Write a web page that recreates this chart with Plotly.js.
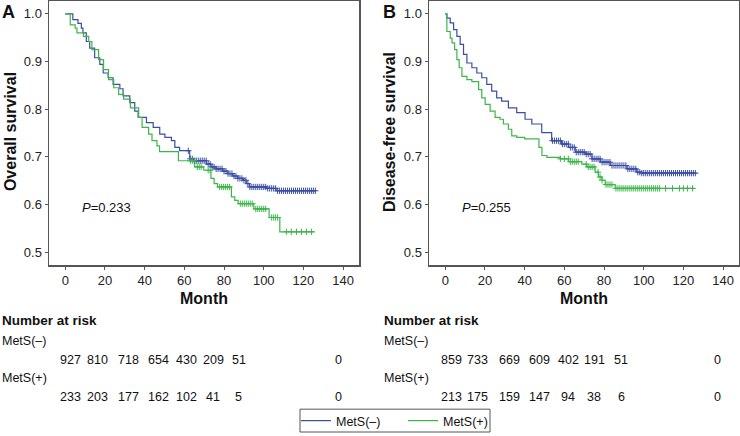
<!DOCTYPE html>
<html>
<head>
<meta charset="utf-8">
<script src="https://cdn.plot.ly/plotly-3.0.1.min.js"></script>
<style>html,body{margin:0;padding:0;background:#fff;}#chart{width:740px;height:436px;}</style>
</head>
<body>
<div id="chart"></div>
<script>
// ---------- data ----------
const groupNames = ["MetS(–)", "MetS(+)"];
const xTicks = [0, 20, 40, 60, 80, 100, 120, 140];
const yTicks = [0.5, 0.6, 0.7, 0.8, 0.9, 1.0];

// Panel A: overall survival
const osNegTime = [0, 3.8, 6.4, 8.1, 8.9, 10.6, 12.3, 14.8, 17.4, 19.1, 21.6, 24.1, 27.5, 29.1, 32.5, 35, 36.7, 40.9, 44.3, 47.6, 50.2, 53.5, 55.2, 57.6, 62.7, 64.5, 71.1, 73.4, 76, 79.3, 81.9, 84.4, 86.9, 89.5, 91.2, 92.8, 101.2, 106.2, 126.4];
const osNegSurv = [1.0, 0.988, 0.98, 0.97, 0.96, 0.942, 0.928, 0.908, 0.894, 0.876, 0.866, 0.852, 0.843, 0.828, 0.814, 0.796, 0.783, 0.772, 0.762, 0.748, 0.741, 0.734, 0.72, 0.713, 0.696, 0.692, 0.685, 0.679, 0.675, 0.670, 0.665, 0.660, 0.655, 0.651, 0.644, 0.637, 0.634, 0.629, 0.629];
const osNegCens = [62, 63, 64, 65, 66, 67, 68, 69, 70, 71, 72, 73, 74, 75, 76, 77, 78, 79, 80, 81, 82, 83, 84, 85, 86, 87, 88, 89, 90, 91, 92, 93, 94, 95, 96, 97, 98, 99, 100, 101, 102, 103, 104, 105, 106, 107, 108, 109, 110, 111, 112, 113, 114, 115, 116, 117, 118, 119, 120, 121, 122, 123, 124, 125, 126];

const osPosTime = [0, 2.5, 5, 5.9, 9.2, 11.8, 13.4, 16.8, 19.3, 21.8, 24.4, 26.9, 29.4, 32.8, 37, 38.7, 42, 43.7, 46.2, 47.5, 57, 65.2, 69.8, 73.4, 75, 76.7, 83.7, 85.4, 87.1, 95, 102.7, 108.1, 125.7];
const osPosSurv = [1.0, 0.977, 0.97, 0.96, 0.953, 0.942, 0.925, 0.904, 0.883, 0.862, 0.845, 0.831, 0.821, 0.803, 0.783, 0.762, 0.748, 0.734, 0.723, 0.711, 0.692, 0.679, 0.672, 0.655, 0.644, 0.637, 0.616, 0.609, 0.602, 0.591, 0.573, 0.543, 0.543];
const osPosCens = [63, 64, 65, 66.5, 67.5, 68.5, 72, 73, 77.8, 78.8, 79.8, 80.8, 81.8, 82.8, 88.2, 89.2, 90.2, 91.2, 92.2, 93.2, 94.2, 96, 97, 98, 99, 100, 101, 104, 105, 106, 107, 111.4, 113.9, 116.5, 119, 121.5, 124];

// Panel B: disease-free survival
const dfsNegTime = [0, 0.8, 2.5, 4.2, 5.85, 7.5, 9.2, 10.9, 13.4, 15.9, 18.4, 20.9, 23.4, 25.9, 28.4, 31.8, 36, 40.2, 43.6, 48.6, 53.6, 58.6, 62.1, 65.5, 70.5, 73.9, 78.1, 83.1, 91.5, 96.5, 99, 126.6];
const dfsNegSurv = [1.0, 0.991, 0.981, 0.967, 0.953, 0.936, 0.915, 0.897, 0.887, 0.876, 0.866, 0.852, 0.838, 0.824, 0.817, 0.803, 0.793, 0.779, 0.769, 0.751, 0.734, 0.727, 0.72, 0.71, 0.706, 0.696, 0.689, 0.682, 0.675, 0.668, 0.666, 0.666];
const dfsNegCens = [54, 55, 56, 57, 58, 59, 60, 61, 62, 63, 64, 65, 66, 67, 68, 69, 70, 71, 72, 73, 74, 75, 76, 77, 78, 79, 80, 81, 82, 83, 84, 85, 86, 87, 88, 89, 90, 91, 92, 93, 94, 95, 96, 97, 98, 99, 100, 101, 102, 103, 104, 105, 106, 107, 108, 109, 110, 111, 112, 113, 114, 115, 116, 117, 118, 119, 120, 121, 122, 123, 124, 125, 126];

const dfsPosTime = [0, 0.8, 2.5, 3.4, 4.7, 5.85, 7, 8.4, 10.9, 13.4, 16.8, 18.4, 20.1, 22.6, 25.1, 27.6, 29.3, 31.8, 33.5, 36, 40, 47.2, 48.7, 51.2, 57.9, 62.1, 68.8, 71.3, 75.5, 77.2, 78.9, 80.6, 85.6, 125.8];
const dfsPosSurv = [1.0, 0.963, 0.949, 0.939, 0.925, 0.904, 0.887, 0.869, 0.862, 0.858, 0.841, 0.824, 0.81, 0.796, 0.783, 0.779, 0.769, 0.758, 0.744, 0.741, 0.738, 0.72, 0.703, 0.699, 0.696, 0.690, 0.685, 0.679, 0.668, 0.658, 0.651, 0.642, 0.634, 0.634];
const dfsPosCens = [58, 60, 62, 63, 64, 65, 66, 67, 71, 72, 73, 74, 75, 77, 78, 79, 81, 82, 83, 84, 86, 87, 88, 89, 90, 91, 92, 93, 94, 95, 96, 97, 98, 99, 100, 101, 102, 103, 104, 105, 106, 107, 108, 111, 114.5, 118, 120, 122, 124.6];

// Numbers at risk
const riskLabel = "Number at risk";
const osRiskNeg = [927, 810, 718, 654, 430, 209, 51, 0];
const osRiskPos = [233, 203, 177, 162, 102, 41, 5, 0];
const dfsRiskNeg = [859, 733, 669, 609, 402, 191, 51, 0];
const dfsRiskPos = [213, 175, 159, 147, 94, 38, 6, 0];

const pA = "0.233";
const pB = "0.255";

// ---------- style ----------
const W = 740, H = 436;
const BLUE = "#3b4ea3";
const GREEN = "#3db54a";
const FRAME = "#555555";
const FONT = "Liberation Sans, Arial, sans-serif";
const px = v => v / W;
const py = v => 1 - v / H;

function stepAt(times, surv, t) {
  let v = surv[0];
  for (let i = 0; i < times.length; i++) { if (times[i] <= t) v = surv[i]; }
  return v;
}

function curve(times, surv, color, name, xa, ya, showleg) {
  return { x: times, y: surv, type: "scatter", mode: "lines", line: { shape: "hv", color: color, width: 1.2 },
    name: name, xaxis: xa, yaxis: ya, showlegend: showleg, hoverinfo: "skip" };
}
function cens(times, surv, ct, color, xa, ya) {
  return { x: ct, y: ct.map(t => stepAt(times, surv, t)), type: "scatter", mode: "markers",
    marker: { symbol: "cross-thin", size: 4.5, color: color, line: { width: 1, color: color } },
    xaxis: xa, yaxis: ya, showlegend: false, hoverinfo: "skip" };
}

const traces = [
  curve(osNegTime, osNegSurv, BLUE, groupNames[0], "x", "y", true),
  curve(osPosTime, osPosSurv, GREEN, groupNames[1], "x", "y", true),
  cens(osNegTime, osNegSurv, osNegCens, BLUE, "x", "y"),
  cens(osPosTime, osPosSurv, osPosCens, GREEN, "x", "y"),
  curve(dfsNegTime, dfsNegSurv, BLUE, groupNames[0], "x2", "y2", false),
  curve(dfsPosTime, dfsPosSurv, GREEN, groupNames[1], "x2", "y2", false),
  cens(dfsNegTime, dfsNegSurv, dfsNegCens, BLUE, "x2", "y2"),
  cens(dfsPosTime, dfsPosSurv, dfsPosCens, GREEN, "x2", "y2")
];

function xax(domain, anchor) {
  return { domain: domain, anchor: anchor, range: [-8.2, 148], tickvals: xTicks, ticks: "outside", ticklen: 3,
    tickcolor: FRAME, showline: true, mirror: true, linecolor: FRAME, linewidth: 1.5, showgrid: false,
    zeroline: false, tickfont: { family: FONT, size: 13, color: "#222" }, fixedrange: true };
}
function yax(anchor) {
  return { domain: [1 - 267 / H, 1 - 1 / H], anchor: anchor, range: [0.473, 1.027], tickvals: yTicks,
    tickformat: ".1f", ticks: "outside", ticklen: 3, tickcolor: FRAME, showline: true, mirror: true,
    linecolor: FRAME, linewidth: 1.5, showgrid: false, zeroline: false,
    tickfont: { family: FONT, size: 13, color: "#222" }, fixedrange: true };
}

const ann = [];
function txt(x, y, text, opts) {
  ann.push(Object.assign({ xref: "paper", yref: "paper", x: px(x), y: py(y), text: text, showarrow: false,
    xanchor: "center", yanchor: "middle", font: { family: FONT, size: 13, color: "#111" } }, opts || {}));
}
const small = { family: FONT, size: 12.5, color: "#111" };
// panel letters
txt(0, 0, "<b>A</b>", { xanchor: "left", yanchor: "top", font: { family: FONT, size: 18, color: "#111" } });
txt(381, 0, "<b>B</b>", { xanchor: "left", yanchor: "top", font: { family: FONT, size: 18, color: "#111" } });
// y titles
txt(10, 133, "<b>Overall survival</b>", { textangle: -90, font: { family: FONT, size: 16, color: "#111" } });
txt(389, 133, "<b>Disease-free survival</b>", { textangle: -90, font: { family: FONT, size: 16, color: "#111" } });
// x titles
txt(204, 301, "<b>Month</b>", { font: { family: FONT, size: 16, color: "#111" } });
txt(584, 301, "<b>Month</b>", { font: { family: FONT, size: 16, color: "#111" } });
// p values
txt(80, 209, "<i>P</i>=" + pA, { xanchor: "left" });
txt(460, 209, "<i>P</i>=" + pB, { xanchor: "left" });

// risk tables
const colA = [70, 97, 128, 158, 187, 213, 239, 338];
const colB = [451, 478, 509, 539, 568, 594, 621, 717];
function table(x0, cols, neg, pos) {
  txt(x0, 323, "<b>" + riskLabel + "</b>", { xanchor: "left", font: { family: FONT, size: 13.5, color: "#111" } });
  txt(x0, 343, groupNames[0], { xanchor: "left", font: small });
  txt(x0, 381, groupNames[1], { xanchor: "left", font: small });
  neg.forEach((v, i) => txt(cols[i], 362, String(v), { font: small }));
  pos.forEach((v, i) => txt(cols[i], 400, String(v), { font: small }));
}
table(0, colA, osRiskNeg, osRiskPos);
table(382, colB, dfsRiskNeg, dfsRiskPos);

const layout = {
  width: W, height: H, margin: { l: 0, r: 0, t: 0, b: 0 },
  paper_bgcolor: "#fff", plot_bgcolor: "#fff",
  font: { family: FONT, size: 13, color: "#111" },
  xaxis: xax([49 / W, 359 / W], "y"),
  yaxis: yax("x"),
  xaxis2: xax([429 / W, 739 / W], "y2"),
  yaxis2: yax("x2"),
  showlegend: true,
  legend: { orientation: "h", x: px(296), xanchor: "left", y: py(424), yanchor: "middle",
    borderwidth: 0, bgcolor: "rgba(0,0,0,0)", font: { family: FONT, size: 12.5, color: "#111" },
    itemwidth: 30, entrywidth: 62, entrywidthmode: "pixels" },
  shapes: [
    { type: "rect", xref: "paper", yref: "paper", x0: px(300), x1: px(490), y0: py(435), y1: py(412),
      line: { color: FRAME, width: 1 }, fillcolor: "rgba(0,0,0,0)", layer: "below" }
  ],
  annotations: ann
};

Plotly.newPlot("chart", traces, layout, { staticPlot: true, displayModeBar: false });
</script>
</body>
</html>
